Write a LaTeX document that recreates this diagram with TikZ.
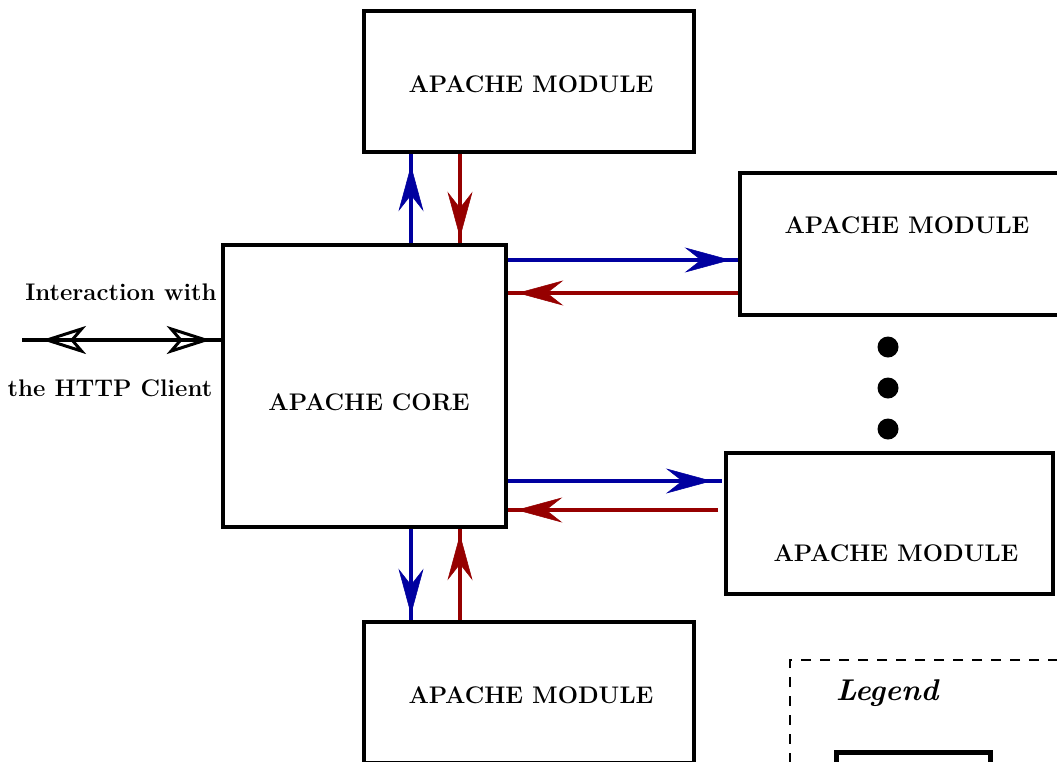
\documentclass[tikz,border=0pt]{standalone}
\usetikzlibrary{arrows.meta,decorations.markings,calc}
\definecolor{ablue}{RGB}{0,0,160}
\definecolor{ared}{RGB}{150,0,0}
\tikzset{
  modbox/.style={draw=black,line width=4.5pt,rectangle,inner sep=0pt},
  lbl/.style={inner sep=0pt,font=\fontsize{24}{28}\selectfont\bfseries},
  side/.style={inner sep=0pt,font=\fontsize{24}{28}\selectfont\bfseries},
  head/.tip={Stealth[length=46pt,width=25pt,inset=16pt,line width=0.5pt]},
  ohead/.tip={Stealth[open,length=44pt,width=28pt,inset=12pt,line width=3pt]},
  flow/.style={line width=3.5pt},
  tipat/.style={postaction={decorate},decoration={markings,mark=at position #1 with {\arrow{head}}}},
  bflow/.style={flow,draw=ablue,tipat=#1},
  rflow/.style={flow,draw=ared,tipat=#1},
}
\begin{document}
\begin{tikzpicture}[x=1pt,y=-1pt]
\useasboundingbox (0,0) rectangle (1057,761);
\clip (0,0) rectangle (1057,761);
\fill[white] (0,0) rectangle (1057,761);
% boxes
\node[modbox,minimum width=330pt,minimum height=141pt] (top) at (529,81.5) {};
\node[modbox,minimum width=380pt,minimum height=142pt] (r1) at (930,244) {};
\node[modbox,minimum width=283pt,minimum height=282pt] (core) at (364.5,386) {};
\node[modbox,minimum width=327pt,minimum height=141pt] (r2) at (889.5,523.5) {};
\node[modbox,minimum width=330pt,minimum height=141pt] (bot) at (529,692.5) {};
% labels
\node[lbl] (ltop) at (531,84) {APACHE MODULE};
\node[lbl] (lr1) at (907,225) {APACHE MODULE};
\node[lbl] (lcore) at (369,402) {APACHE CORE};
\node[lbl] (lr2) at (896,553) {APACHE MODULE};
\node[lbl] (lbot) at (531,695) {APACHE MODULE};
\node[side] (int1) at (121,292) {Interaction with};
\node[side] (int2) at (110,388) {the HTTP Client};
% dots
\fill (888,347) circle (10.5);
\fill (888,388) circle (10.5);
\fill (888,429) circle (10.5);
% legend
\node[draw,dashed,line width=2pt,dash pattern=on 10pt off 9pt,minimum width=320pt,minimum height=160pt,anchor=north west,inner sep=0pt] (legbox) at (789,659) {};
\node[inner sep=0pt,font=\fontsize{30}{34}\selectfont\bfseries\itshape] (legtxt) at (887,693) {Legend};
\node[modbox,minimum width=154pt,minimum height=60pt,anchor=north west] (legmod) at (834,750) {};
% connectors
\coordinate (b2end) at (722,481);
\coordinate (r2start) at (718,510);
\coordinate (client) at (22,340);
\draw[bflow=-11pt] (core.north -| 411,0) -- (top.south -| 411,0);
\draw[rflow=-5pt] (top.south -| 460,0) -- (core.north -| 460,0);
\draw[bflow=-7pt] (core.east |- 0,260) -- (r1.west |- 0,260);
\draw[rflow=-9pt] (r1.west |- 0,293) -- (core.east |- 0,293);
\draw[bflow=-10pt] (core.east |- 0,481) -- (b2end);
\draw[rflow=-8pt] (r2start) -- (core.east |- 0,510);
\draw[bflow=-5pt] (core.south -| 411,0) -- (bot.north -| 411,0);
\draw[rflow=-5pt] (bot.north -| 460,0) -- (core.south -| 460,0);
\draw[line width=3.5pt,{ohead}-{ohead},shorten <=20pt,shorten >=10pt] (client) -- (core.west |- 0,340);
\draw[line width=3.5pt] (client) -- (core.west |- 0,340);
\end{tikzpicture}
\end{document}
